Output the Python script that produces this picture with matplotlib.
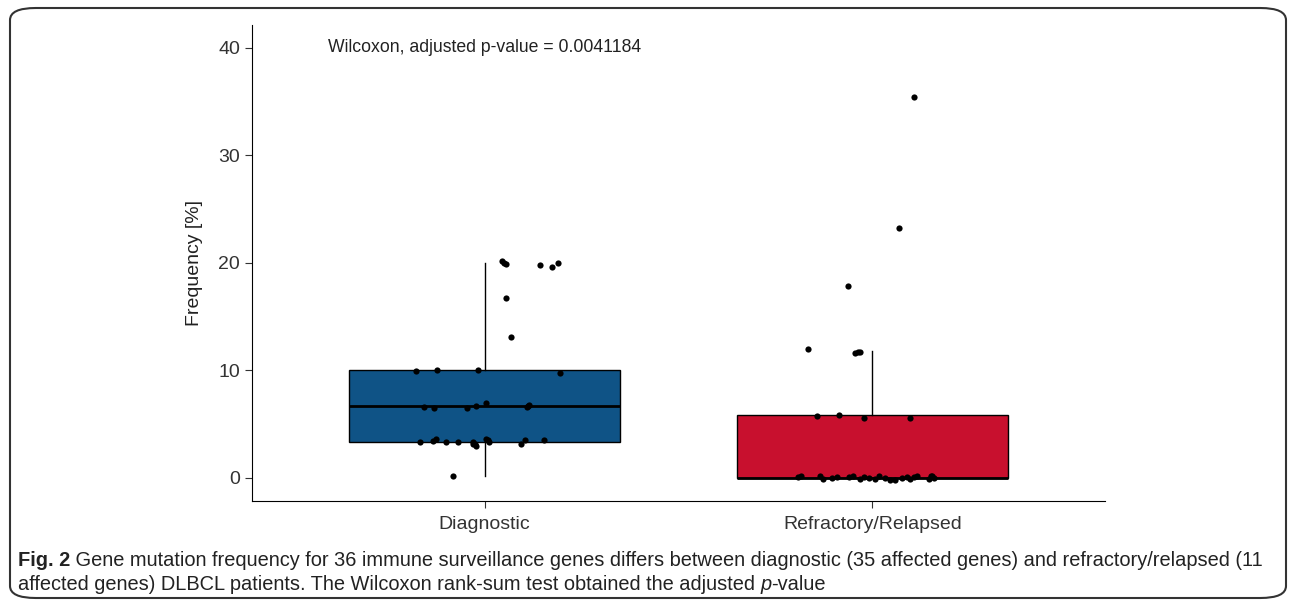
import matplotlib.pyplot as plt
from matplotlib.patches import FancyBboxPatch

plt.rcParams['font.family'] = ['Liberation Sans', 'DejaVu Sans']

# groups and box statistics
groups = ['Diagnostic', 'Refractory/Relapsed']
box_colors = ['#0F5386', '#C8102E']
q1 = [3.35, 0.0]
median = [6.7, 0.0]
q3 = [10.0, 5.86]
whisker_low = [0.15, 0.0]
whisker_high = [20.0, 11.8]

# jittered points: offset from group centre, frequency
diag_dx = [0.046, 0.056, 0.051, 0.144, 0.174, 0.190, 0.054, 0.069,
           -0.177, -0.123, -0.018, 0.195,
           -0.156, -0.131, -0.046, -0.023, 0.003, 0.110, 0.115, 0.113,
           -0.167, -0.133, -0.126, -0.100, -0.069, -0.031, -0.031, -0.023,
           -0.026, 0.003, 0.010, 0.008, 0.095, 0.105, 0.154, -0.082]
diag_val = [20.2, 19.9, 20.0, 19.8, 19.6, 20.0, 16.7, 13.1,
            9.9, 10.0, 10.0, 9.8,
            6.6, 6.5, 6.5, 6.7, 7.0, 6.6, 6.8, 6.7,
            3.3, 3.4, 3.6, 3.35, 3.3, 3.35, 3.15, 3.0,
            3.2, 3.6, 3.35, 3.5, 3.15, 3.5, 3.5, 0.2]

ref_dx = [0.108, 0.069, -0.062, -0.167, -0.044, -0.038, -0.033,
          -0.144, -0.085, -0.021, 0.097,
          -0.192, -0.185, -0.136, -0.128, -0.103, -0.090, -0.059, -0.051,
          -0.033, -0.021, -0.008, 0.008, 0.018, 0.033, 0.046, 0.059,
          0.077, 0.090, 0.097, 0.108, 0.115, 0.146, 0.154, 0.159, 0.151]
ref_val = [35.4, 23.2, 17.8, 12.0, 11.6, 11.75, 11.7,
           5.77, 5.86, 5.6, 5.6,
           0.1, 0.2, 0.15, -0.1, 0.0, 0.05, 0.1, 0.2,
           -0.05, 0.1, 0.0, -0.1, 0.15, 0.0, -0.2, -0.15,
           0.0, 0.1, -0.1, 0.05, 0.2, -0.1, 0.15, 0.0, 0.2]

fig = plt.figure(figsize=(12.9, 6.03), dpi=100)
ax = fig.add_axes([252 / 1290, 1 - 501 / 603, (1105 - 252) / 1290, (501 - 25) / 603])

stats = []
for i in range(len(groups)):
    stats.append({'med': median[i], 'q1': q1[i], 'q3': q3[i],
                  'whislo': whisker_low[i], 'whishi': whisker_high[i], 'fliers': []})

bp = ax.bxp(stats, positions=[1, 2], widths=0.7, patch_artist=True, showcaps=False,
            boxprops=dict(edgecolor='black', linewidth=1.0),
            whiskerprops=dict(color='black', linewidth=1.0),
            medianprops=dict(color='black', linewidth=2.0))
for patch, c in zip(bp['boxes'], box_colors):
    patch.set_facecolor(c)

ax.scatter([1 + d for d in diag_dx], diag_val, s=20, color='black', zorder=3, linewidths=0)
ax.scatter([2 + d for d in ref_dx], ref_val, s=20, color='black', zorder=3, linewidths=0)

ax.set_xlim(0.4, 2.6)
ax.set_ylim(-2.14, 42.1)
ax.set_yticks([0, 10, 20, 30, 40])
ax.set_xticks([1, 2])
ax.set_xticklabels(groups)
ax.tick_params(axis='both', labelsize=14, colors='#333333', length=5, width=0.8)
ax.tick_params(axis='x', pad=6)
ax.spines['top'].set_visible(False)
ax.spines['right'].set_visible(False)
ax.set_ylabel('Frequency [%]', fontsize=14, color='#222222', labelpad=11)

ax.text(0.595, 40, 'Wilcoxon, adjusted p-value = 0.0041184', fontsize=12.7,
        color='#222222', va='center', ha='left')

# rounded frame around the figure
frame = FancyBboxPatch((10 / 1290, 1 - 598 / 603), 1276 / 1290, 590 / 603,
                       boxstyle='round,pad=0,rounding_size=0.02',
                       transform=fig.transFigure, fill=False,
                       edgecolor='#333333', linewidth=1.5)
fig.patches.append(frame)

# caption with mixed bold / italic parts
renderer = fig.canvas.get_renderer()


def caption_line(parts, y):
    x = 18 / 1290
    for txt, weight, style in parts:
        t = fig.text(x, y, txt, fontsize=14.4, fontweight=weight, fontstyle=style,
                     color='#222222', va='center', ha='left')
        bb = t.get_window_extent(renderer=renderer)
        x = bb.x1 / fig.bbox.width


caption_line([('Fig. 2', 'bold', 'normal'),
              (' Gene mutation frequency for 36 immune surveillance genes differs between '
               'diagnostic (35 affected genes) and refractory/relapsed (11', 'normal', 'normal')],
             1 - 560 / 603)
caption_line([('affected genes) DLBCL patients. The Wilcoxon rank-sum test obtained the adjusted ',
               'normal', 'normal'),
              ('p', 'normal', 'italic'),
              ('-value', 'normal', 'normal')],
             1 - 585 / 603)

fig.savefig('out.png', dpi=100)
